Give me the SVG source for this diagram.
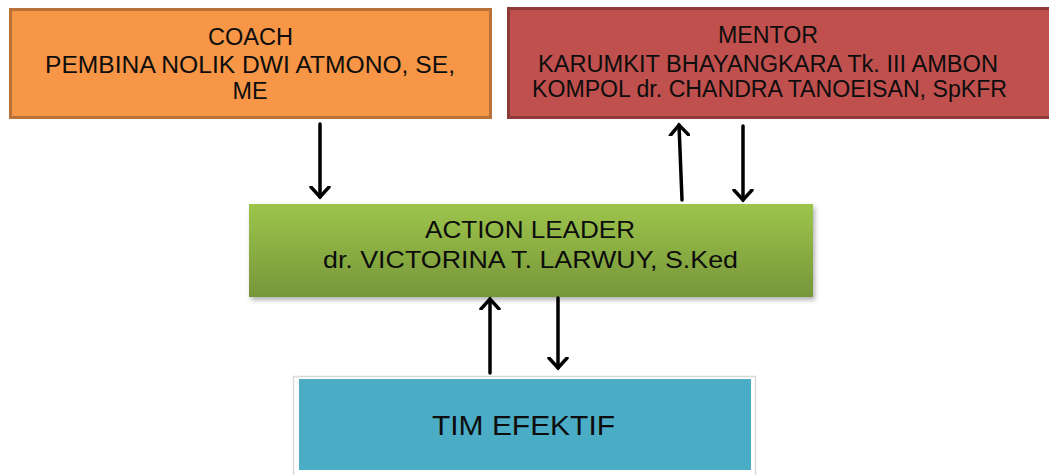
<svg xmlns="http://www.w3.org/2000/svg" width="1049" height="475" viewBox="0 0 1049 475">
<defs>
<style>
.t{font-family:"Liberation Sans",Arial,sans-serif;fill:#0d0d0d;text-anchor:middle}
.a{stroke:#000;stroke-width:3.5;fill:none;stroke-linecap:round}
</style>
<linearGradient id="g" x1="0" y1="0" x2="0" y2="1">
<stop offset="0" stop-color="#9dc54b"/>
<stop offset="1" stop-color="#77963a"/>
</linearGradient>
<filter id="sh" x="-5%" y="-10%" width="110%" height="130%">
<feDropShadow dx="2" dy="3" stdDeviation="2.5" flood-color="#000" flood-opacity="0.3"/>
</filter>
<marker id="ah" markerWidth="22" markerHeight="22" refX="11" refY="11" orient="auto" markerUnits="userSpaceOnUse" viewBox="0 0 22 22">
<path d="M1,2 L11,11 L1,20" fill="none" stroke="#000" stroke-width="3.5" stroke-linecap="round" stroke-linejoin="miter"/>
</marker>
</defs>
<rect width="1049" height="475" fill="#fff"/>
<g id="coach">
<rect x="10.5" y="9.5" width="480" height="108" fill="#f79646" stroke="#b9713a" stroke-width="3"/>
<text class="t" font-size="23" x="250.5" y="45" textLength="85" lengthAdjust="spacingAndGlyphs">COACH</text>
<text class="t" font-size="23" x="250" y="73" textLength="410" lengthAdjust="spacingAndGlyphs">PEMBINA NOLIK DWI ATMONO, SE,</text>
<text class="t" font-size="23" x="250" y="99" textLength="35" lengthAdjust="spacingAndGlyphs">ME</text>
</g>
<g id="mentor">
<rect x="508.5" y="8.5" width="545" height="109" fill="#c0504d" stroke="#8e3a38" stroke-width="3"/>
<text class="t" font-size="23" x="768" y="43" textLength="100" lengthAdjust="spacingAndGlyphs">MENTOR</text>
<text class="t" font-size="23" x="768" y="72" textLength="460" lengthAdjust="spacingAndGlyphs">KARUMKIT BHAYANGKARA Tk. III AMBON</text>
<text class="t" font-size="23" x="769.5" y="97" textLength="475" lengthAdjust="spacingAndGlyphs">KOMPOL dr. CHANDRA TANOEISAN, SpKFR</text>
</g>
<g id="action-leader">
<rect x="249" y="204" width="564" height="93" fill="url(#g)" filter="url(#sh)"/>
<text class="t" font-size="24" x="530" y="238" textLength="210" lengthAdjust="spacingAndGlyphs">ACTION LEADER</text>
<text class="t" font-size="24" x="530.5" y="268" textLength="415" lengthAdjust="spacingAndGlyphs">dr. VICTORINA T. LARWUY, S.Ked</text>
</g>
<g id="tim-efektif">
<rect x="293.5" y="376.5" width="462" height="110" fill="#fff" stroke="#d9d9d9" stroke-width="1.5"/>
<rect x="299" y="379" width="452" height="91" fill="#4bacc6"/>
<text class="t" font-size="28" x="523.5" y="435" textLength="183" lengthAdjust="spacingAndGlyphs">TIM EFEKTIF</text>
</g>
<g id="connectors">
<line class="a" x1="320" y1="124" x2="320" y2="197" marker-end="url(#ah)"/>
<line class="a" x1="682" y1="200" x2="679" y2="125" marker-end="url(#ah)"/>
<line class="a" x1="743" y1="126" x2="743" y2="200" marker-end="url(#ah)"/>
<line class="a" x1="490" y1="373" x2="490" y2="299" marker-end="url(#ah)"/>
<line class="a" x1="558" y1="298" x2="558" y2="368" marker-end="url(#ah)"/>
</g>
</svg>
